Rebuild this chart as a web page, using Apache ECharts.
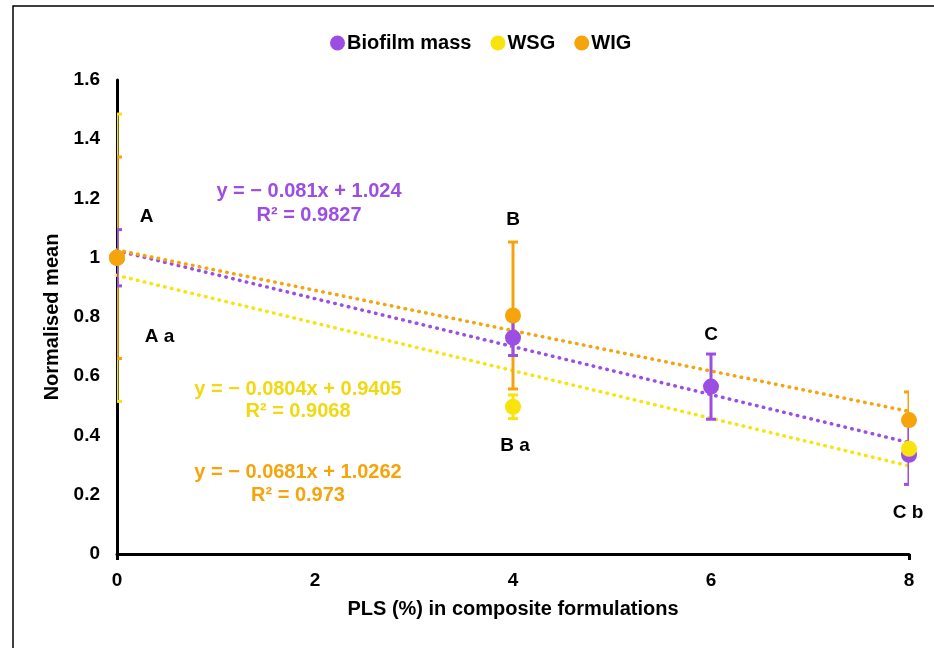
<!DOCTYPE html>
<html><head><meta charset="utf-8">
<script src="https://cdn.jsdelivr.net/npm/echarts@6/dist/echarts.min.js"></script>
<style>html,body{margin:0;padding:0;background:#fff}#c{width:934px;height:648px}</style>
</head><body><div id="c"></div><script>
// ---- data ----
const xValues = [0, 4, 6, 8];
const biofilm = [1.0, 0.73, 0.565, 0.335];
const biofilmErr = [0.095, 0.06, 0.11, 0.10];
const wsg = [1.0, 0.497, null, 0.355];
const wsgErr = [0.485, 0.04, null, 0.02];
const wig = [1.0, 0.805, null, 0.452];
const wigErr = [0.34, 0.248, null, 0.095];
const seriesNames = ['Biofilm mass', 'WSG', 'WIG'];
const trendSlope = [-0.081, -0.0804, -0.0681];
const trendIntercept = [1.024, 0.9405, 1.0262];
const equationTexts = [
  'y = \u2212 0.081x + 1.024\nR\u00b2 = 0.9827',
  'y = \u2212 0.0804x + 0.9405\nR\u00b2 = 0.9068',
  'y = \u2212 0.0681x + 1.0262\nR\u00b2 = 0.973'
];
const letterText = ['A', 'A a', 'B', 'B a', 'C', 'D', 'C b'];
const letterX = [0.30, 0.43, 4.0, 4.02, 6.0, 8.04, 7.99];
const letterY = [1.139, 0.733, 1.128, 0.365, 0.74, 0.649, 0.139];
const xTicks = [0, 2, 4, 6, 8];
const yTicks = [0, 0.2, 0.4, 0.6, 0.8, 1, 1.2, 1.4, 1.6];

// ---- styling ----
const colors = ['#9d4ee2', '#f8e30c', '#f5a40c'];
const eqColors = ['#9d4ee2', '#f0d910', '#f5a40c'];
const FONT = '"Liberation Sans", Arial, Helvetica, sans-serif';
const means = [biofilm, wsg, wig];
const errs = [biofilmErr, wsgErr, wigErr];

function errRender(color) {
  return function (params, api) {
    const x = api.value(0), lo = api.value(1), hi = api.value(2);
    const p1 = api.coord([x, hi]), p2 = api.coord([x, lo]);
    const w = 5;
    const st = { stroke: color, lineWidth: 3 };
    return { type: 'group', children: [
      { type: 'line', shape: { x1: p1[0], y1: p1[1], x2: p2[0], y2: p2[1] }, style: st },
      { type: 'line', shape: { x1: p1[0] - w, y1: p1[1], x2: p1[0] + w, y2: p1[1] }, style: st },
      { type: 'line', shape: { x1: p2[0] - w, y1: p2[1], x2: p2[0] + w, y2: p2[1] }, style: st }
    ]};
  };
}

const series = [];
for (let i = 0; i < 3; i++) {
  series.push({
    name: 'trend' + i, type: 'line', silent: true, symbol: 'none', z: 1,
    data: [[xTicks[0], trendIntercept[i]], [xTicks[xTicks.length - 1], trendIntercept[i] + trendSlope[i] * xTicks[xTicks.length - 1]]],
    lineStyle: { color: colors[i], width: 3.5, type: [0.5, 6.5], cap: 'round' }
  });
}
[1, 2, 0].forEach(i => {
  const d = [];
  xValues.forEach((x, k) => {
    if (means[i][k] != null) d.push([x, means[i][k] - errs[i][k], means[i][k] + errs[i][k]]);
  });
  series.push({
    name: 'err' + i, type: 'custom', renderItem: errRender(colors[i]), data: d,
    encode: { x: 0, y: [1, 2] }, clip: true, z: 2
  });
});
for (let i = 0; i < 3; i++) {
  const d = [];
  xValues.forEach((x, k) => { if (means[i][k] != null) d.push([x, means[i][k]]); });
  series.push({
    name: seriesNames[i], type: 'scatter', symbol: 'circle', symbolSize: 16, data: d, z: 3 + i,
    itemStyle: { color: colors[i], opacity: 1 }, clip: false
  });
}
series.push({
  name: 'letters', type: 'scatter', symbolSize: 0, itemStyle: { color: '#000', opacity: 1 }, z: 6, silent: true,
  data: letterText.map((t, k) => ({ name: t, value: [letterX[k], letterY[k]] })),
  label: { show: true, position: 'inside', formatter: '{b}', color: '#000', opacity: 1, textBorderWidth: 0, fontFamily: FONT, fontWeight: 'bold', fontSize: 19 }
});

const chart = echarts.init(document.getElementById('c'), null, { renderer: 'canvas' });
chart.setOption({
  backgroundColor: '#fff',
  animation: false,
  legend: {
    data: seriesNames.map(n => ({ name: n, icon: 'circle' })),
    left: 325, top: 28, itemWidth: 15, itemHeight: 15, itemGap: 19,
    textStyle: { fontFamily: FONT, fontWeight: 'bold', fontSize: 20, color: '#000', padding: [0, 0, 0, -3] }
  },
  grid: { left: 117, right: 25, top: 80, bottom: 94 },
  xAxis: [{
    type: 'value', min: 0, max: 8, interval: 2,
    name: 'PLS (%) in composite formulations', nameLocation: 'middle', nameGap: 45,
    nameTextStyle: { fontFamily: FONT, fontWeight: 'bold', fontSize: 20, color: '#000' },
    axisLine: { show: true, lineStyle: { color: '#000', width: 3 } },
    axisTick: { show: false },
    splitLine: { show: false },
    axisLabel: { fontFamily: FONT, fontWeight: 'bold', fontSize: 19, color: '#000', margin: 17 }
  }, {
    type: 'value', min: 0, max: 8, interval: 8, position: 'bottom',
    axisLine: { show: false }, axisLabel: { show: false }, splitLine: { show: false },
    axisTick: { show: true, length: 6, lineStyle: { color: '#000', width: 3 } }
  }],
  yAxis: {
    type: 'value', min: 0, max: 1.6, interval: 0.2,
    name: 'Normalised mean', nameLocation: 'middle', nameGap: 55,
    nameTextStyle: { fontFamily: FONT, fontWeight: 'bold', fontSize: 20, color: '#000' },
    axisLine: { show: true, lineStyle: { color: '#000', width: 3 } },
    axisTick: { show: false },
    splitLine: { show: false },
    axisLabel: { fontFamily: FONT, fontWeight: 'bold', fontSize: 19, color: '#000', margin: 17,
      formatter: v => String(Math.round(v * 10) / 10) }
  },
  graphic: [
    { type: 'rect', silent: true, z: 0, shape: { x: 13, y: 6, width: 1000, height: 800 },
      style: { fill: 'none', stroke: '#000', lineWidth: 1.5 } },
    { type: 'text', z: 10, x: 309, y: 179, style: { text: equationTexts[0], fill: eqColors[0], font: 'bold 20px ' + FONT, textAlign: 'center', lineHeight: 24 } },
    { type: 'text', z: 10, x: 298, y: 378, style: { text: equationTexts[1], fill: eqColors[1], font: 'bold 20px ' + FONT, textAlign: 'center', lineHeight: 22 } },
    { type: 'text', z: 10, x: 298, y: 461, style: { text: equationTexts[2], fill: eqColors[2], font: 'bold 20px ' + FONT, textAlign: 'center', lineHeight: 23 } }
  ],
  series: series
});
</script></body></html>
